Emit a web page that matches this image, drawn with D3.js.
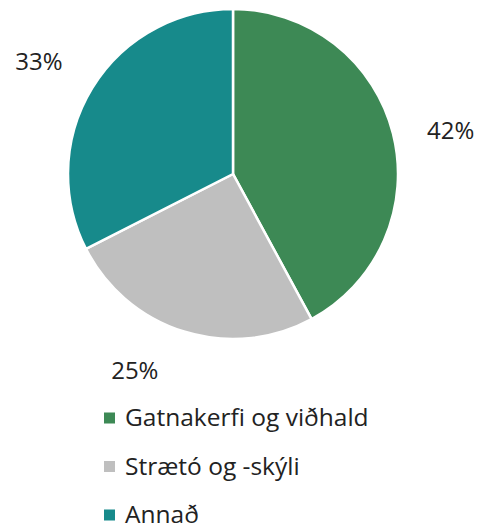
<!DOCTYPE html>
<html>
<head>
<meta charset="utf-8">
<script src="https://cdn.jsdelivr.net/npm/d3@7"></script>
<style>
  body { margin: 0; background: #fff; }
  text { font-family: "Open Sans", sans-serif; fill: #222; }
</style>
</head>
<body>
<svg id="chart" width="480" height="525"></svg>
<script>
var categories = ['Gatnakerfi og viðhald', 'Strætó og -skýli', 'Annað'];
var values = [42.1, 25.4, 32.5];
var labels = ['42%', '25%', '33%'];
var colors = ['#3d8955', '#bfbfbf', '#178a8b'];

var svg = d3.select('#chart');
var cx = 233, cy = 174, radius = 165;
// small offsets so labels sit where the best-fit placement put them
var labelNudge = [[5, 11], [-33, -13], [-7, 2]];

var data = categories.map(function(c, i) {
  return {name: c, value: values[i], label: labels[i], color: colors[i], nudge: labelNudge[i]};
});

var pie = d3.pie().sort(null).value(function(d) { return d.value; });
var arc = d3.arc().innerRadius(0).outerRadius(radius);
var labelArc = d3.arc().innerRadius(radius * 1.33).outerRadius(radius * 1.33);

var g = svg.append('g').attr('transform', 'translate(' + cx + ',' + cy + ')');

g.selectAll('path')
  .data(pie(data))
  .enter()
  .append('path')
  .attr('d', arc)
  .attr('fill', function(d) { return d.data.color; })
  .attr('stroke', '#fff')
  .attr('stroke-width', 2.5);

g.selectAll('text.lbl')
  .data(pie(data))
  .enter()
  .append('text')
  .attr('class', 'lbl')
  .attr('transform', function(d) {
    var c = labelArc.centroid(d);
    return 'translate(' + (c[0] + d.data.nudge[0]) + ',' + (c[1] + d.data.nudge[1]) + ')';
  })
  .attr('text-anchor', 'middle')
  .attr('dy', '0.35em')
  .style('font-size', '24px')
  .text(function(d) { return d.data.label; });

// legend
var legend = svg.append('g').attr('transform', 'translate(104,418)');
var rows = legend.selectAll('g')
  .data(data)
  .enter()
  .append('g')
  .attr('transform', function(d, i) { return 'translate(0,' + (i * 48.5) + ')'; });

rows.append('rect')
  .attr('x', 0)
  .attr('y', -5.5)
  .attr('width', 11)
  .attr('height', 11)
  .attr('fill', function(d) { return d.color; });

rows.append('text')
  .attr('x', 21)
  .attr('dy', '0.33em')
  .style('font-size', '24.5px')
  .text(function(d) { return d.name; });
</script>
</body>
</html>
